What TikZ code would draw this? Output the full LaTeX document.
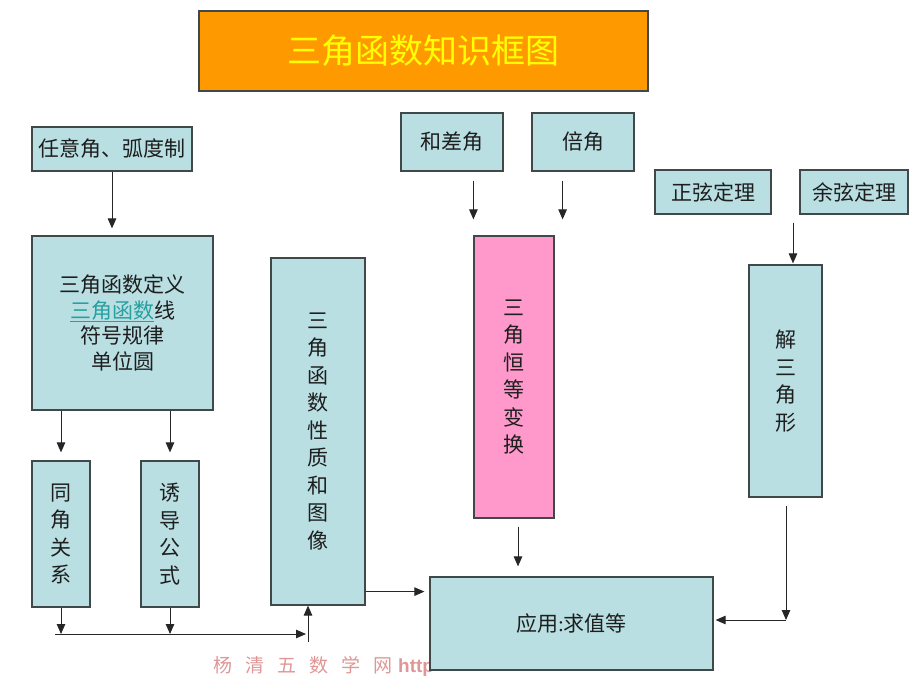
\documentclass[tikz,border=0pt]{standalone}
\usepackage{fontspec}
\newfontfamily\cjk{Noto Sans CJK SC}
\usetikzlibrary{arrows.meta,calc}
\definecolor{boxblue}{RGB}{185,223,227}
\definecolor{boxline}{RGB}{64,72,74}
\definecolor{titlefill}{RGB}{255,153,0}
\definecolor{titletext}{RGB}{255,255,0}
\definecolor{pinkfill}{RGB}{255,153,204}
\definecolor{linkteal}{RGB}{38,160,160}
\definecolor{txt}{RGB}{30,30,30}
\definecolor{wmcol}{RGB}{222,150,150}
\begin{document}
\begin{tikzpicture}[x=1pt,y=-1pt,
  box/.style={draw=boxline, line width=1.2pt, fill=boxblue, inner sep=0pt, text=txt,
    font=\cjk\fontsize{21}{25.5}\selectfont, align=center},
  vbox/.style={box, font=\cjk\fontsize{21}{27.5}\selectfont},
  arr/.style={draw=black!85, line width=1pt, -{Triangle[length=10pt,width=8.5pt]}}
]
\useasboundingbox (0,0) rectangle (920,690);
% watermark (behind)
\node[font=\cjk\fontsize{19}{19}\selectfont, text=wmcol, anchor=west, inner sep=0pt] (wm) at (213,666)
  {杨\hspace{13pt}清\hspace{13pt}五\hspace{13pt}数\hspace{13pt}学\hspace{13pt}网\hspace{6pt}{\fontspec{Liberation Sans}\bfseries http}};

% boxes
\node[draw=boxline, line width=1.2pt, fill=titlefill, text=titletext, minimum width=449pt, minimum height=80pt,
  inner sep=0pt, font=\cjk\fontsize{34}{34}\selectfont] (title) at (423.5,51) {三角函数知识框图};
\node[box, minimum width=160pt, minimum height=44pt] (ryj) at (112,149) {任意角、弧度制};
\node[box, minimum width=102pt, minimum height=58pt] (hcj) at (452,142) {和差角};
\node[box, minimum width=102pt, minimum height=58pt] (bj) at (583,142) {倍角};
\node[box, minimum width=116pt, minimum height=44pt] (zx) at (713,192) {正弦定理};
\node[box, minimum width=108pt, minimum height=44pt] (yx) at (854,192) {余弦定理};
\node[box, minimum width=181pt, minimum height=174pt] (def) at (122.5,323)
  {三角函数定义\\\textcolor{linkteal}{\underline{三角函数}}线\\符号规律\\单位圆};
\node[vbox, minimum width=58pt, minimum height=146pt] (tj) at (61,534) {同\\角\\关\\系};
\node[vbox, minimum width=58pt, minimum height=146pt] (yd) at (170,534) {诱\\导\\公\\式};
\node[vbox, minimum width=94pt, minimum height=347pt] (xz) at (318,431.5) {三\\角\\函\\数\\性\\质\\和\\图\\像};
\node[vbox, fill=pinkfill, minimum width=80pt, minimum height=282pt] (hd) at (514,377) {三\\角\\恒\\等\\变\\换};
\node[vbox, minimum width=73pt, minimum height=232pt] (jsj) at (785.5,381) {解\\三\\角\\形};
\node[box, minimum width=283pt, minimum height=93pt] (yy) at (571.5,623.5) {应用\fontspec{Liberation Serif}:\cjk 求值等};

% helper coordinates
\coordinate (busL) at (55,634);
\coordinate (busR) at (306,634);
\coordinate (up) at (308,642);
\coordinate (xr) at ($(xz.south east)+(0,-14)$);
\coordinate (bjx) at ($(hd.north east)+(8,0)$);
\coordinate (hdx) at ($(hd.south)+(4,0)$);
\coordinate (jt) at ($(jsj.north)+(7.5,0)$);
\coordinate (jc) at (786,620);

% connectors
\draw[arr, shorten >=7pt] (ryj.south) -- (ryj.south |- def.north);
\draw[arr, shorten >=8pt] (def.south -| tj.north) -- (tj.north);
\draw[arr, shorten >=8pt] (def.south -| yd.north) -- (yd.north);
\draw[arr] (tj.south) -- (tj.south |- busL);
\draw[arr] (yd.south) -- (yd.south |- busL);
\draw[arr] (busL) -- (busR);
\draw[arr] (up) -- (up |- xz.south);
\draw[arr, shorten >=5pt] (xr) -- (xr -| yy.west);
\draw[arr, shorten <=9pt, shorten >=16pt] (hcj.south -| hd.north west) -- (hd.north west);
\draw[arr, shorten <=9pt, shorten >=16pt] (bjx |- bj.south) -- (bjx);
\draw[arr, shorten <=8pt, shorten >=10pt] (hdx) -- (hdx |- yy.north);
\draw[arr, shorten <=8pt, shorten >=1pt] (yx.south -| jt) -- (jt);
\draw[arr, shorten <=8pt] (jsj.south -| jc) -- (jc);
\draw[arr, shorten >=2pt] (jc) -- (jc -| yy.east);
\end{tikzpicture}
\end{document}
